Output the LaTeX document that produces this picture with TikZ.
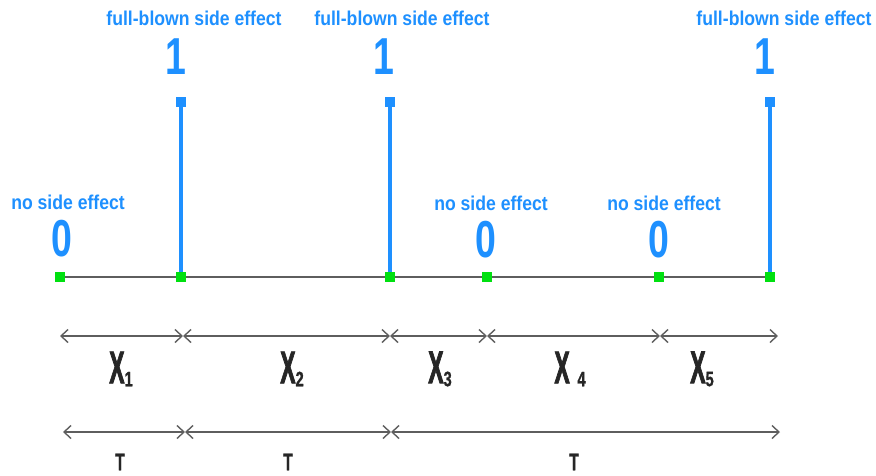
\documentclass[tikz,border=0pt]{standalone}
\usepackage{fontspec}
\newfontfamily\lblfont[FakeStretch=0.88]{Liberation Sans}
\newfontfamily\digfont[FakeStretch=0.72]{Liberation Sans}
\newfontfamily\xfont[FakeStretch=0.5,FakeBold=1.5]{Liberation Sans}
\newfontfamily\subfont[FakeStretch=0.7,FakeBold=1]{Liberation Sans}
\newfontfamily\tfont[FakeStretch=0.65,FakeBold=1]{Liberation Sans}
\usetikzlibrary{arrows.meta}
\definecolor{myblue}{HTML}{1E90FF}
\definecolor{mygreen}{HTML}{00E010}
\definecolor{dimgr}{HTML}{5E5E5E}
\newcommand{\xsub}[1]{\raisebox{-3pt}{\subfont\bfseries\fontsize{21}{21}\selectfont #1}}
\begin{document}
\begin{tikzpicture}[x=1pt,y=-1pt,
  lbl/.style={text=myblue,font=\lblfont\bfseries\fontsize{20}{20}\selectfont,inner sep=0pt},
  val/.style={text=myblue,font=\digfont\bfseries\fontsize{52}{52}\selectfont,inner sep=0pt},
  xl/.style={text=black!85,font=\xfont\bfseries\fontsize{46}{46}\selectfont,inner sep=0pt},
  tl/.style={text=black!85,font=\tfont\bfseries\fontsize{24}{24}\selectfont,inner sep=0pt},
  gsq/.style={fill=mygreen,minimum size=10pt,inner sep=0pt,draw=none},
  bsq/.style={fill=myblue,minimum size=10pt,inner sep=0pt,draw=none},
  stem/.style={draw=myblue,line width=3.5pt},
  axisln/.style={draw=dimgr,line width=1.5pt},
  dim/.style={draw=dimgr,line width=1.4pt,{Straight Barb[length=7pt,width=13pt]}-{Straight Barb[length=7pt,width=13pt]}}]
\useasboundingbox (0,0) rectangle (876,475);
% axis points
\coordinate (p0) at (60,277);
\coordinate (p1) at (181,277);
\coordinate (p2) at (390,277);
\coordinate (p3) at (487,277);
\coordinate (p4) at (659,277);
\coordinate (p5) at (770,277);
\draw[axisln] (p0) -- (p5);
% stems
\node[bsq] (t1) at (181,102) {};
\node[bsq] (t2) at (390,102) {};
\node[bsq] (t5) at (770,102) {};
\draw[stem] (t1.center) -- (p1);
\draw[stem] (t2.center) -- (p2);
\draw[stem] (t5.center) -- (p5);
% green squares
\foreach \i in {0,...,5}{\node[gsq] (g\i) at (p\i) {};}
% labels
\node[lbl] (f1) at (194,18) {full-blown side effect};
\node[lbl] (f2) at (402,18) {full-blown side effect};
\node[lbl] (f5) at (784,18) {full-blown side effect};
\node[val] (v1) at (176,57) {1};
\node[val] (v2) at (384,57) {1};
\node[val] (v5) at (765,57) {1};
\node[lbl] (n0) at (68,202) {no side effect};
\node[lbl] (n3) at (491,203) {no side effect};
\node[lbl] (n4) at (664,203) {no side effect};
\node[val] (z0) at (62,239) {0};
\node[val] (z3) at (486,240) {0};
\node[val] (z4) at (659,240) {0};
% dimension row 1
\coordinate (d0) at (60,336);
\coordinate (d1) at (183,336);
\coordinate (d2) at (390,336);
\coordinate (d3) at (487,336);
\coordinate (d4) at (660,336);
\coordinate (d5) at (778,336);
\draw[dim] (d0) -- (d1);
\draw[dim] (d1) -- (d2);
\draw[dim] (d2) -- (d3);
\draw[dim] (d3) -- (d4);
\draw[dim] (d4) -- (d5);
\node[xl] (x1) at (121,369) {X\xsub{1}};
\node[xl] (x2) at (292,369) {X\xsub{2}};
\node[xl] (x3) at (440,369) {X\xsub{3}};
\node[xl] (x4) at (570,369) {X\,\xsub{4}};
\node[xl] (x5) at (702,369) {X\xsub{5}};
% dimension row 2
\coordinate (e0) at (63,432);
\coordinate (e1) at (185,432);
\coordinate (e2) at (391,432);
\coordinate (e3) at (780,432);
\draw[dim] (e0) -- (e1);
\draw[dim] (e1) -- (e2);
\draw[dim] (e2) -- (e3);
\node[tl] (T1) at (120,462) {T};
\node[tl] (T2) at (288,462) {T};
\node[tl] (T3) at (574,462) {T};
\end{tikzpicture}
\end{document}
